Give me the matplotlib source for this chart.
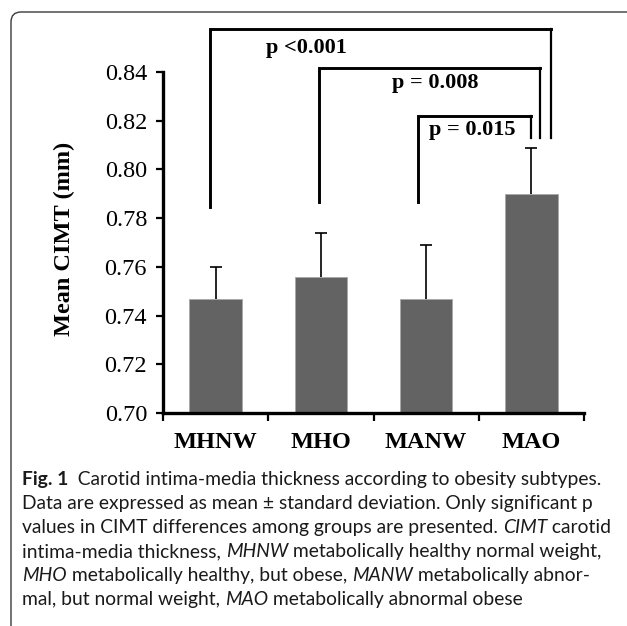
import numpy as np
import matplotlib
matplotlib.use("Agg")
import matplotlib.pyplot as plt
from matplotlib.patches import FancyBboxPatch

groups = ["MHNW", "MHO", "MANW", "MAO"]
mean_cimt = [0.747, 0.756, 0.747, 0.790]
sd_cimt = [0.013, 0.018, 0.022, 0.019]
y_ticks = [0.70, 0.72, 0.74, 0.76, 0.78, 0.80, 0.82, 0.84]

# significance brackets: (left group, right group), label, level of the bar
pairs = [(0, 3), (1, 3), (2, 3)]
p_labels = ["p <0.001", "p = 0.008", "p = 0.015"]
bracket_top = [0.8577, 0.8417, 0.8219]
left_foot = [0.7846, 0.7866, 0.7866]
right_foot = [0.8131, 0.8129, 0.8129]
left_shift = [-0.053, -0.018, -0.077]
right_shift = [0.186, 0.082, -0.004]
label_x = [0.859, 2.084, 2.44]
label_y = [0.8499, 0.8355, 0.8162]

caption = [
    [("Fig. 1", "bold"), ("  Carotid intima-media thickness according to obesity subtypes.", "normal")],
    [("Data are expressed as mean \u00b1 standard deviation. Only significant p", "normal")],
    [("values in CIMT differences among groups are presented. ", "normal"), ("CIMT", "italic"), (" carotid", "normal")],
    [("intima-media thickness, ", "normal"), ("MHNW", "italic"), (" metabolically healthy normal weight,", "normal")],
    [("MHO", "italic"), (" metabolically healthy, but obese, ", "normal"), ("MANW", "italic"), (" metabolically abnor-", "normal")],
    [("mal, but normal weight, ", "normal"), ("MAO", "italic"), (" metabolically abnormal obese", "normal")],
]

W, H = 627, 626
fig = plt.figure(figsize=(W / 100, H / 100), dpi=100)
serif = "Liberation Serif"

# frame round the figure (cut at right and bottom)
fig.patches.append(FancyBboxPatch((11 / W, -0.1), 1.5, 1 - 12 / H + 0.1, boxstyle="round,pad=0,rounding_size=0.016",
                                  transform=fig.transFigure, fc="none", ec="#3a3a3a", lw=1.0))

ax = fig.add_axes([163 / W, 1 - 413 / H, 421 / W, 341 / H])
x = np.arange(len(groups))
ax.bar(x, mean_cimt, width=0.5, color="#636363", edgecolor="#a8a8a8", lw=0.6, zorder=2)
eb = ax.errorbar(x, mean_cimt, yerr=[np.zeros(len(sd_cimt)), sd_cimt], fmt="none",
                 ecolor="black", elinewidth=1.2, capsize=4.5, capthick=1.2, zorder=3)
eb[1][0].set_visible(False)  # no cap at the bar top

ax.set_ylim(0.70, 0.84)
ax.set_xlim(-0.5, 3.5)
ax.set_yticks(y_ticks)
ax.set_yticklabels([f"{v:.2f}" for v in y_ticks], fontfamily=serif, fontsize=17.5)
ax.set_xticks(x)
ax.set_xticklabels(groups, fontfamily=serif, fontsize=17.5, fontweight="bold")
ax.set_xticks(np.arange(-0.5, 4, 1), minor=True)
ax.tick_params(axis="x", which="major", length=0, pad=14)
ax.tick_params(axis="x", which="minor", length=5.5, width=1.6, direction="out")
ax.tick_params(axis="y", length=5, width=1.6, pad=6.5)
for s in ["top", "right"]:
    ax.spines[s].set_visible(False)
for s in ["left", "bottom"]:
    ax.spines[s].set_linewidth(2.4)
ax.set_ylabel("Mean CIMT (mm)", fontfamily=serif, fontsize=17.5, fontweight="bold")
ax.yaxis.set_label_coords((75 - 163) / 421, 0.51)

for k, (i, j) in enumerate(pairs):
    xl = x[i] + left_shift[k]
    xr = x[j] + right_shift[k]
    ax.plot([xl, xl, xr], [left_foot[k], bracket_top[k], bracket_top[k]], color="black", lw=2.1,
            clip_on=False, solid_joinstyle="miter", zorder=4)
    ax.plot([xr, xr], [bracket_top[k], right_foot[k]], color="black", lw=1.6, clip_on=False, zorder=4)
    ax.text(label_x[k], label_y[k], p_labels[k], fontfamily=serif, fontsize=16, fontweight="bold",
            ha="center", va="center")

# caption, written piece by piece to mix bold / italic
fig.canvas.draw()
r = fig.canvas.get_renderer()
cap_font = "Lato"
cap_size = 13.9
y0 = 485
for n, line in enumerate(caption):
    xp = 22
    yp = 1 - (y0 + n * 24.0) / H
    for txt, st in line:
        kw = dict(fontfamily=cap_font, fontsize=cap_size,
                  fontweight="bold" if st == "bold" else "normal",
                  fontstyle="italic" if st == "italic" else "normal")
        fig.text(xp / W, yp, txt, va="baseline", ha="left", color="#1a1a1a", **kw)
        # measure with a marker char so trailing spaces count
        probe = fig.text(0, 0, txt + "|", **kw)
        bar = fig.text(0, 0, "|", **kw)
        xp += probe.get_window_extent(r).width - bar.get_window_extent(r).width
        probe.remove()
        bar.remove()

fig.savefig("out.png", dpi=100)
